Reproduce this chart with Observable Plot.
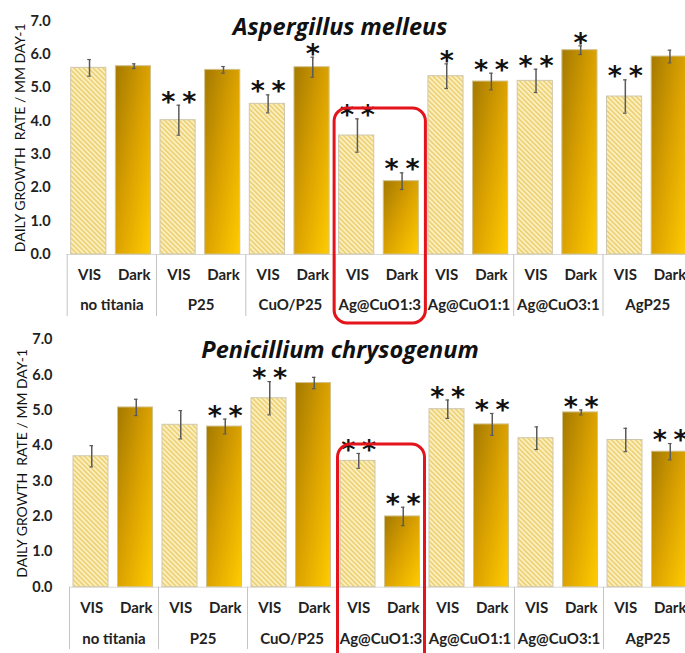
<!DOCTYPE html>
<html><head><meta charset="utf-8">
<script src="https://cdn.jsdelivr.net/npm/d3@7"></script>
<script src="https://cdn.jsdelivr.net/npm/@observablehq/plot@0.6"></script>
<style>
html,body{margin:0;padding:0;background:#fff;overflow:hidden;}
#wrap{position:relative;width:685px;height:653px;overflow:hidden;background:#fff;}
.panel{position:absolute;left:0;}
.title{position:absolute;left:0;width:680px;text-align:center;font-family:"Open Sans",sans-serif;font-weight:bold;font-style:italic;font-size:23.5px;line-height:24px;color:#111;z-index:2;}
</style></head>
<body>
<svg width="0" height="0" style="position:absolute">
  <defs>
    <pattern id="hatch" patternUnits="userSpaceOnUse" width="3.4" height="3.4" patternTransform="rotate(-45)">
      <rect width="3.4" height="3.4" fill="#fbefbd"/>
      <rect width="1.4" height="3.4" fill="#ebcc6c"/>
    </pattern>
    <linearGradient id="gold" x1="0" y1="0" x2="1" y2="1">
      <stop offset="0" stop-color="#a47900"/>
      <stop offset="0.5" stop-color="#dba200"/>
      <stop offset="1" stop-color="#ffcc00"/>
    </linearGradient>
  </defs>
</svg>
<div id="wrap">
  <div class="title" style="top:14px">Aspergillus melleus</div>
  <div class="title" style="top:337px">Penicillium chrysogenum</div>
  <div class="panel" id="p1" style="top:0"></div>
  <div class="panel" id="p2" style="top:320px"></div>
</div>
<script>
const groups = ["no titania","P25","CuO/P25","Ag@CuO1:3","Ag@CuO1:1","Ag@CuO3:1","AgP25"];
const conditions = ["VIS","Dark"];
const yTicks = [0,1,2,3,4,5,6,7];
const yTitle = "DAILY GROWTH  RATE / MM DAY-1";

// Aspergillus melleus (VIS, Dark per group)
const melleusValues = [5.60,5.65, 4.03,5.54, 4.52,5.62, 3.57,2.20, 5.35,5.19, 5.21,6.13, 4.74,5.94];
const melleusErrors = [0.25,0.07, 0.45,0.10, 0.27,0.30, 0.50,0.25, 0.37,0.25, 0.35,0.13, 0.50,0.19];
const melleusStars  = ["","", "**","", "**","*", "**","**", "*","**", "**","*", "**",""];

// Penicillium chrysogenum
const chrysoValues = [3.70,5.08, 4.59,4.54, 5.34,5.77, 3.57,2.00, 5.03,4.60, 4.21,4.94, 4.16,3.83];
const chrysoErrors = [0.30,0.23, 0.40,0.21, 0.47,0.16, 0.21,0.26, 0.26,0.31, 0.32,0.07, 0.33,0.23];
const chrysoStars  = ["","", "","**", "**","", "**","**", "**","**", "","**", "","**"];

const highlightGroup = "Ag@CuO1:3";

function panel({values, errors, stars, xRange, marginTop, marginBottom, height, boxTop, boxBottom, boxShift, titleDx, tickDx, rowDy, groupDy}) {
  const rows = values.map((v, i) => ({i, group: groups[Math.floor(i/2)], cond: conditions[i%2], v, e: errors[i], s: stars[i]}));
  const caps = rows.flatMap(d => [{i: d.i, y: d.v - d.e}, {i: d.i, y: d.v + d.e}]);
  const bounds = d3.range(groups.length + 1).map(g => 2 * g);
  const glabels = groups.map((g, k) => ({k, g}));
  const box = [{group: highlightGroup, top: boxTop, bottom: boxBottom}];
  const font = "Lato, sans-serif";
  return Plot.plot({
    width: 685, height, marginTop, marginBottom, marginLeft: xRange[0], marginRight: 0,
    x: {domain: [0, 14], range: xRange, axis: null},
    y: {domain: [0, 7], axis: null},
    style: {fontFamily: font, overflow: "visible", background: "transparent"},
    marks: [
      Plot.ruleY([0], {stroke: "#d9d9d9"}),
      Plot.ruleX(bounds, {x: d => d, y1: 0, y2: 0, insetBottom: -(marginBottom - 4), stroke: "#c4c4c4"}),
      Plot.rectY(rows.filter(d => d.cond === "VIS"), {x1: d => d.i, x2: d => d.i + 1, y: "v", insetLeft: 4, insetRight: 5.5, fill: "url(#hatch)", stroke: "#cfc7ad", strokeWidth: 1}),
      Plot.rectY(rows.filter(d => d.cond === "Dark"), {x1: d => d.i, x2: d => d.i + 1, y: "v", insetLeft: 4, insetRight: 5.5, fill: "url(#gold)", stroke: "#d2c28e", strokeWidth: 1}),
      Plot.ruleX(rows, {x: d => d.i + 0.5, y1: d => d.v - d.e, y2: d => d.v + d.e, stroke: "#5a5a5a", strokeWidth: 1.5}),
      Plot.ruleY(caps, {y: "y", x1: d => d.i + 0.5, x2: d => d.i + 0.5, insetLeft: -1.8, insetRight: -1.8, stroke: "#5a5a5a", strokeWidth: 1.2}),
      Plot.text(rows.filter(d => d.s), {x: d => d.i + 0.5, y: d => d.v + d.e, text: d => d.s === "**" ? "*\u2005*" : "*", fontSize: 27, fontWeight: "bold", fontFamily: "DejaVu Sans", fill: "#111", dy: -3}),
      Plot.text(yTicks, {y: d => d, text: d => d.toFixed(1), frameAnchor: "left", dx: tickDx, textAnchor: "end", fontSize: 14.5, fontWeight: "bold", fill: "#222"}),
      Plot.text([yTitle], {frameAnchor: "left", rotate: -90, dx: titleDx, textAnchor: "middle", lineAnchor: "middle", fontSize: 14, fill: "#111", text: d => d}),
      Plot.text(rows, {x: d => d.i + 0.5, text: "cond", frameAnchor: "bottom", lineAnchor: "middle", dy: rowDy, fontSize: 15, fontWeight: "bold", fill: "#222"}),
      Plot.text(glabels, {x: d => 2 * d.k + 1, text: "g", frameAnchor: "bottom", lineAnchor: "middle", dy: groupDy, fontSize: 15, fontWeight: "bold", fill: "#222"}),
      Plot.rect(box, {x1: d => 2 * groups.indexOf(d.group), x2: d => 2 * groups.indexOf(d.group) + 2, y1: "bottom", y2: "top", insetLeft: -boxShift, insetRight: -(boxShift + 1), fill: "none", stroke: "#e3141b", strokeWidth: 3, rx: 13})
    ]
  });
}

document.getElementById("p1").append(panel({
  values: melleusValues, errors: melleusErrors, stars: melleusStars,
  xRange: [66.7, 691.8], marginTop: 20.7, marginBottom: 66, height: 320,
  boxTop: 4.38, boxBottom: -2.07, boxShift: 0.5, titleDx: -46.5, tickDx: -16.5, rowDy: 21, groupDy: 51
}));
document.getElementById("p2").append(panel({
  values: chrysoValues, errors: chrysoErrors, stars: chrysoStars,
  xRange: [69, 692], marginTop: 19, marginBottom: 66.3, height: 333,
  boxTop: 4.03, boxBottom: -2.3, boxShift: -1.5, titleDx: -47, tickDx: -17, rowDy: 20.5, groupDy: 52
}));
</script>
</body></html>
